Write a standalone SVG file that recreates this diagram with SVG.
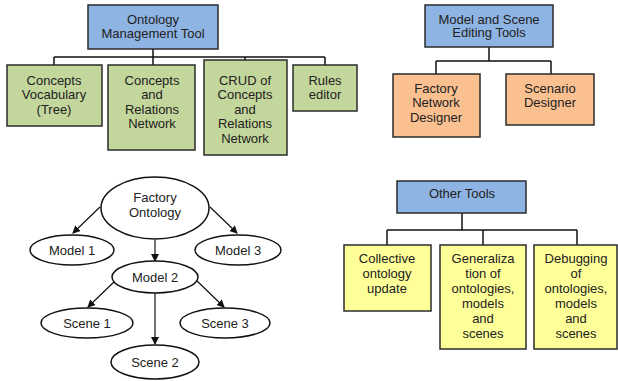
<svg xmlns="http://www.w3.org/2000/svg" width="618" height="381" viewBox="0 0 618 381">
<defs>
<style>
.box{stroke:#2b2b2b;stroke-width:1.5}
.blue{fill:#8eb4e3}
.green{fill:#c3d69b}
.orange{fill:#fac090}
.yellow{fill:#ffff99}
.ell{fill:#ffffff;stroke:#111;stroke-width:1.5}
.ln{fill:none;stroke:#111;stroke-width:1.5}
.arr{fill:none;stroke:#111;stroke-width:1.2;marker-end:url(#ah)}
text{font-family:"Liberation Sans",Arial,sans-serif;font-size:13px;fill:#222;text-anchor:middle}
</style>
<marker id="ah" markerWidth="8" markerHeight="8" refX="7" refY="4" orient="auto" markerUnits="userSpaceOnUse">
<path d="M0,0 L8,4 L0,8 Z" fill="#111"/>
</marker>
</defs>
<rect width="618" height="381" fill="#ffffff"/>

<g id="connectors">
<path class="ln" d="M153,49 V57 M54,57 H325 M54,57 V65 M153,57 V65 M245,57 V60 M325,57 V65"/>
<path class="ln" d="M489,47 V61 M436,61 H551 M436,61 V74 M551,61 V74"/>
<path class="ln" d="M462,213 V230 M387,230 H577 M387,230 V245 M483,230 V245 M577,230 V245"/>
<line class="arr" x1="100" y1="207" x2="73" y2="233"/>
<line class="arr" x1="210" y1="207" x2="237" y2="233"/>
<line class="arr" x1="155" y1="240" x2="155" y2="261"/>
<line class="arr" x1="116" y1="280" x2="88" y2="307"/>
<line class="arr" x1="196" y1="280" x2="224" y2="307"/>
<line class="arr" x1="155" y1="293" x2="155" y2="344"/>
</g>

<g id="ontology-management-tool">
<rect class="box blue" x="88" y="5" width="130" height="44"/>
<text x="153" y="24">Ontology</text>
<text x="153" y="38">Management Tool</text>
</g>
<g id="concepts-vocabulary">
<rect class="box green" x="7" y="65" width="95" height="61"/>
<text x="54" y="84.5">Concepts</text>
<text x="54" y="99">Vocabulary</text>
<text x="54" y="113.5">(Tree)</text>
</g>
<g id="concepts-relations-network">
<rect class="box green" x="108" y="65" width="87" height="85"/>
<text x="152" y="84.5">Concepts</text>
<text x="152" y="99">and</text>
<text x="152" y="113.5">Relations</text>
<text x="152" y="128">Network</text>
</g>
<g id="crud">
<rect class="box green" x="204" y="60" width="83" height="95"/>
<text x="245" y="84.5">CRUD of</text>
<text x="245" y="99">Concepts</text>
<text x="245" y="113.5">and</text>
<text x="245" y="128">Relations</text>
<text x="245" y="142.5">Network</text>
</g>
<g id="rules-editor">
<rect class="box green" x="293" y="65" width="64" height="46"/>
<text x="325" y="84.5">Rules</text>
<text x="325" y="99">editor</text>
</g>

<g id="model-scene-editing-tools">
<rect class="box blue" x="425" y="5" width="128" height="42"/>
<text x="489" y="23.5">Model and Scene</text>
<text x="489" y="37">Editing Tools</text>
</g>
<g id="factory-network-designer">
<rect class="box orange" x="393" y="74" width="87" height="63"/>
<text x="436" y="92.5">Factory</text>
<text x="436" y="107">Network</text>
<text x="436" y="121.5">Designer</text>
</g>
<g id="scenario-designer">
<rect class="box orange" x="506" y="74" width="88" height="51"/>
<text x="550" y="92.5">Scenario</text>
<text x="550" y="107">Designer</text>
</g>

<g id="factory-ontology">
<ellipse class="ell" cx="155" cy="208" rx="54" ry="31"/>
<text x="155" y="202">Factory</text>
<text x="155" y="216.5">Ontology</text>
</g>
<g id="model-1">
<ellipse class="ell" cx="72" cy="250" rx="42" ry="15"/>
<text x="72" y="254.5">Model 1</text>
</g>
<g id="model-3">
<ellipse class="ell" cx="238" cy="250" rx="43" ry="15"/>
<text x="238" y="254.5">Model 3</text>
</g>
<g id="model-2">
<ellipse class="ell" cx="155" cy="277" rx="43" ry="16"/>
<text x="155" y="281.5">Model 2</text>
</g>
<g id="scene-1">
<ellipse class="ell" cx="87" cy="323" rx="46" ry="15"/>
<text x="87" y="327.5">Scene 1</text>
</g>
<g id="scene-3">
<ellipse class="ell" cx="225" cy="323" rx="45" ry="15"/>
<text x="225" y="327.5">Scene 3</text>
</g>
<g id="scene-2">
<ellipse class="ell" cx="155" cy="362" rx="44" ry="17"/>
<text x="155" y="366.5">Scene 2</text>
</g>

<g id="other-tools">
<rect class="box blue" x="397" y="181" width="129" height="32"/>
<text x="462" y="197.5">Other Tools</text>
</g>
<g id="collective-ontology-update">
<rect class="box yellow" x="344" y="245" width="87" height="66"/>
<text x="387" y="262.5">Collective</text>
<text x="387" y="277.5">ontology</text>
<text x="387" y="292.5">update</text>
</g>
<g id="generalization">
<rect class="box yellow" x="440" y="245" width="86" height="104"/>
<text x="483" y="262.5">Generaliza</text>
<text x="483" y="277.5">tion of</text>
<text x="483" y="292.5">ontologies,</text>
<text x="483" y="307.5">models</text>
<text x="483" y="322.5">and</text>
<text x="483" y="337.5">scenes</text>
</g>
<g id="debugging">
<rect class="box yellow" x="534" y="245" width="83" height="104"/>
<text x="576" y="262.5">Debugging</text>
<text x="576" y="277.5">of</text>
<text x="576" y="292.5">ontologies,</text>
<text x="576" y="307.5">models</text>
<text x="576" y="322.5">and</text>
<text x="576" y="337.5">scenes</text>
</g>
</svg>
